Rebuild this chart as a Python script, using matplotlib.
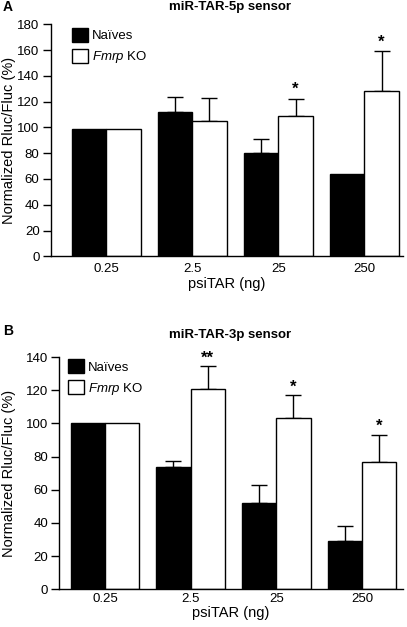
import matplotlib
matplotlib.use("Agg")
import matplotlib.pyplot as plt
import numpy as np

plt.rcParams['font.family'] = ['Liberation Sans', 'DejaVu Sans']
plt.rcParams['mathtext.fontset'] = 'custom'
plt.rcParams['mathtext.rm'] = 'Liberation Sans'
plt.rcParams['mathtext.it'] = 'Liberation Sans:italic'

categories = ['0.25', '2.5', '25', '250']

# Panel A: miR-TAR-5p sensor
a_naive = [99, 112, 80, 64]
a_naive_err = [0, 12, 11, 0]
a_ko = [99, 105, 109, 128]
a_ko_err = [0, 18, 13, 31]
a_stars = ['', '', '*', '*']

# Panel B: miR-TAR-3p sensor
b_naive = [100, 74, 52, 29]
b_naive_err = [0, 3.5, 11, 9]
b_ko = [100, 121, 103.5, 77]
b_ko_err = [0, 13.5, 13.5, 16]
b_stars = ['', '**', '*', '*']

W, H = 407, 627
fig = plt.figure(figsize=(W / 100, H / 100), dpi=100)

def px(x, y):
    return x / W, 1 - y / H

def panel(rect, naive, naive_err, ko, ko_err, stars, ymax, title, title_y, letter, letter_y,
          xlim, star_off, tick_pad, xlabel_y, leg_anchor):
    ax = fig.add_axes(rect)
    x = np.arange(len(categories))
    w = 0.4
    ax.bar(x - w/2, naive, w, color='black', edgecolor='black', linewidth=1, label='Naïves', zorder=2)
    ax.bar(x + w/2, ko, w, color='white', edgecolor='black', linewidth=1, label='$\\mathit{Fmrp}$ KO', zorder=2)
    for xs, vals, errs in ((x - w/2, naive, naive_err), (x + w/2, ko, ko_err)):
        for xi, v, e in zip(xs, vals, errs):
            if e > 0:
                ax.errorbar([xi], [v], yerr=[[0], [e]], fmt='none', ecolor='black', elinewidth=1,
                            capsize=6, capthick=1, zorder=1)
    for xi, v, e, s in zip(x + w/2, ko, ko_err, stars):
        if s:
            ax.text(xi, v + e + star_off, s, ha='center', va='bottom', fontsize=12,
                    fontweight='bold', clip_on=False)
    ax.set_xlim(*xlim)
    ax.set_ylim(0, ymax)
    ax.set_yticks(np.arange(0, ymax + 1, 20))
    ax.set_xticks(x)
    ax.set_xticklabels(categories)
    ax.tick_params(axis='x', length=0, pad=tick_pad, labelsize=9.5)
    ax.tick_params(axis='y', length=6, width=1, direction='out', labelsize=9.5, pad=2)
    for sp in ['top', 'right']:
        ax.spines[sp].set_visible(False)
    for sp in ['left', 'bottom']:
        ax.spines[sp].set_linewidth(1)
    cy = rect[1] + rect[3] / 2
    fig.text(px(9, 0)[0], cy, 'Normalized Rluc/Fluc (%)', fontsize=10.5, rotation=90,
             ha='center', va='center')
    cx = rect[0] + rect[2] / 2
    fig.text(cx, px(0, xlabel_y)[1], 'psiTAR (ng)', fontsize=10.5, ha='center', va='center')
    fig.text(px(230, 0)[0], px(0, title_y)[1], title, fontsize=9.5, fontweight='bold',
             ha='center', va='center')
    ax.legend(loc='upper left', bbox_to_anchor=leg_anchor, frameon=False, fontsize=9.5,
              handlelength=1.2, handleheight=1.25, handletextpad=0.3, labelspacing=0.5,
              borderaxespad=0, borderpad=0)
    fig.text(px(3, 0)[0], px(0, letter_y)[1], letter, fontsize=10, fontweight='bold',
             va='center', ha='left')
    return ax

panel([0.1246, 0.5912, 0.866, 0.370], a_naive, a_naive_err, a_ko, a_ko_err, a_stars, 180,
      'miR-TAR-5p sensor', 7, 'A', 7, (-0.643, 3.45), 1.5, 5, 284, (0.060, 0.985))
panel([0.1457, 0.0601, 0.8445, 0.3705], b_naive, b_naive_err, b_ko, b_ko_err, b_stars, 140,
      'miR-TAR-3p sensor', 335, 'B', 331, (-0.533, 3.48), 0.5, 3, 613, (0.025, 0.99))

fig.savefig('out.png', dpi=100)
